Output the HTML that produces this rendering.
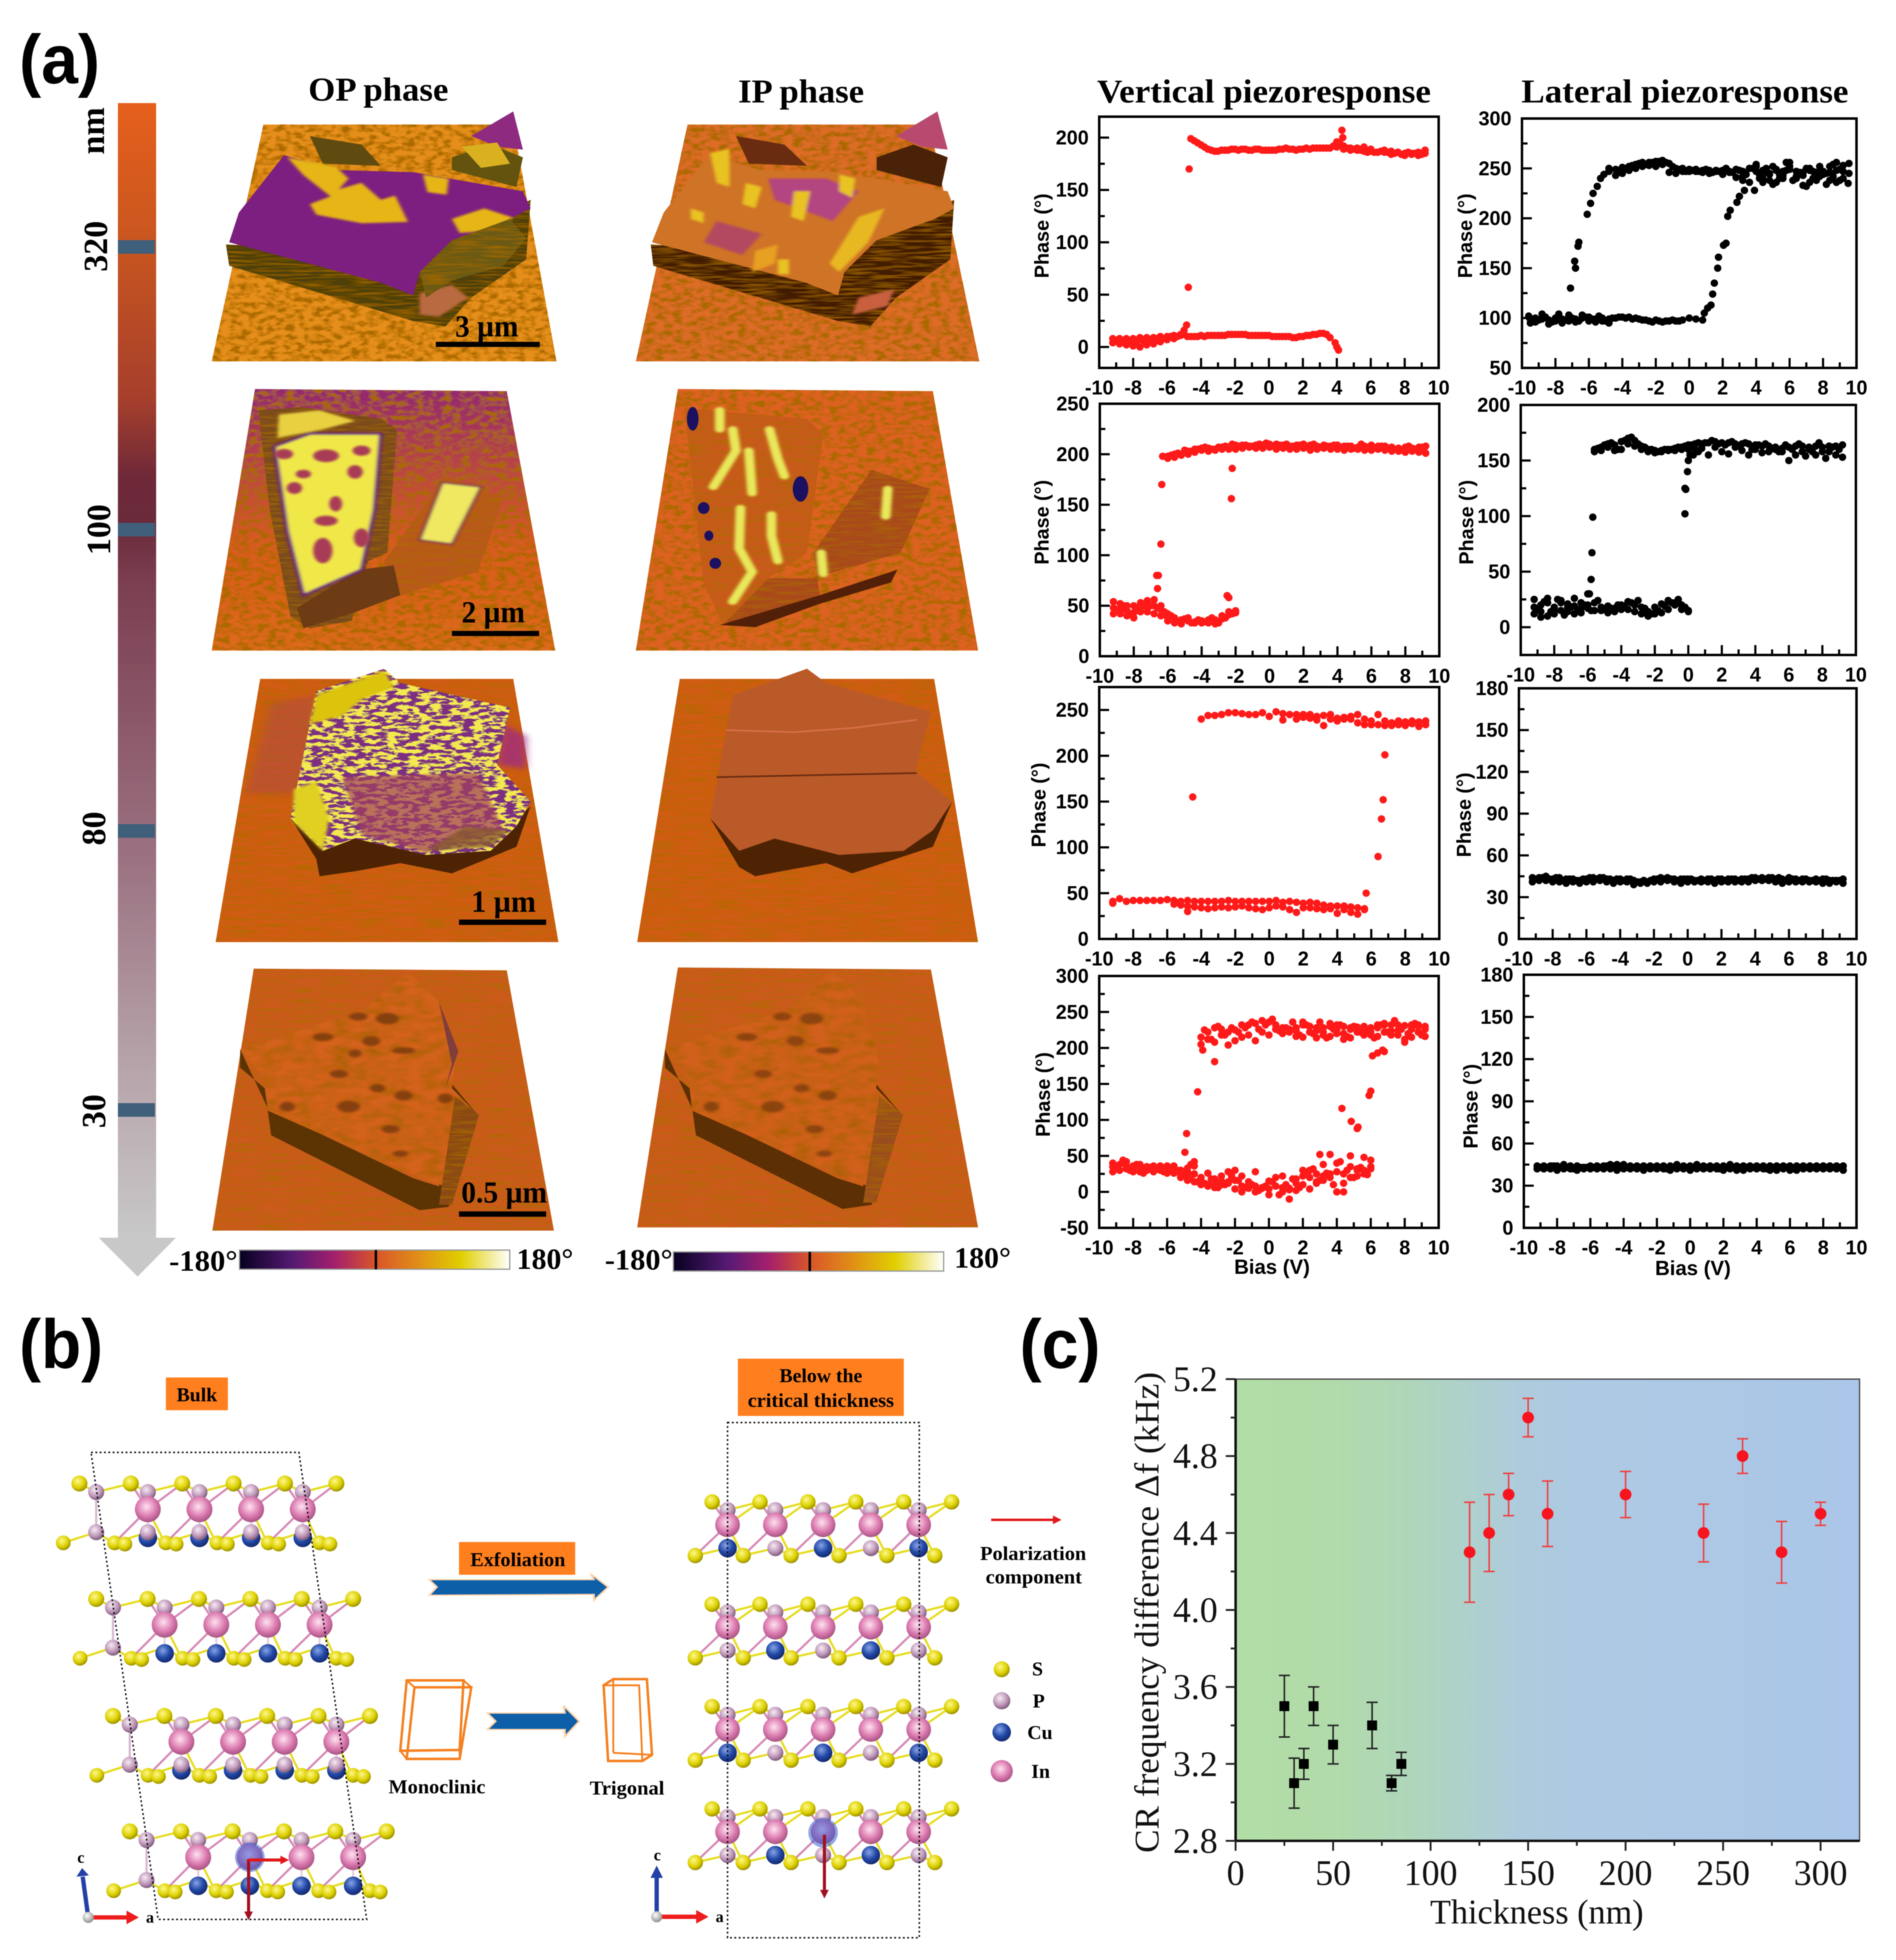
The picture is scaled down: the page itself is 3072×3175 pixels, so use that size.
<!DOCTYPE html>
<html lang="en">
<head>
<meta charset="utf-8">
<title>Thickness-dependent piezoresponse figure</title>
<style>
html,body{margin:0;padding:0;background:#fff;}
svg{display:block;filter:blur(.7px);}
.serif{font-family:"Liberation Serif",serif;font-weight:bold;}
.sans{font-family:"Liberation Sans",sans-serif;font-weight:bold;}
</style>
</head>
<body>
<svg id="figure" xmlns="http://www.w3.org/2000/svg" width="3072" height="3175" viewBox="0 0 3072 3175">
<defs>
  <linearGradient id="thickGrad" x1="0" y1="0" x2="0" y2="1">
    <stop offset="0" stop-color="#e55f1c"/><stop offset=".12" stop-color="#c9561f"/>
    <stop offset=".26" stop-color="#a63f2c"/><stop offset=".33" stop-color="#6e2838"/>
    <stop offset=".37" stop-color="#6a2a3a"/><stop offset=".42" stop-color="#7a3e50"/>
    <stop offset=".66" stop-color="#9a7080"/>
    <stop offset=".85" stop-color="#b6a4aa"/><stop offset="1" stop-color="#c8c8c8"/>
  </linearGradient>
  <linearGradient id="phaseBar" x1="0" y1="0" x2="1" y2="0">
    <stop offset="0" stop-color="#060020"/><stop offset=".2" stop-color="#561a74"/>
    <stop offset=".35" stop-color="#a31f6c"/><stop offset=".5" stop-color="#d8532a"/>
    <stop offset=".65" stop-color="#e08a18"/><stop offset=".82" stop-color="#e0cf00"/>
    <stop offset="1" stop-color="#ffffff"/>
  </linearGradient>
  <linearGradient id="cBackground" x1="0" y1="0" x2="1" y2="0">
    <stop offset="0" stop-color="#b1dda6"/><stop offset=".15" stop-color="#b1dba9"/>
    <stop offset=".3" stop-color="#aed5bd"/><stop offset=".45" stop-color="#aecbdc"/>
    <stop offset=".55" stop-color="#aec9e2"/><stop offset="1" stop-color="#aac6e8"/>
  </linearGradient>
  <linearGradient id="row2Base" x1="0" y1="0" x2="0" y2="1">
    <stop offset="0" stop-color="#93286f"/><stop offset=".35" stop-color="#c04a3c"/><stop offset=".6" stop-color="#d85c20"/><stop offset="1" stop-color="#dc6a1a"/>
  </linearGradient>
  <radialGradient id="atomS" cx=".4" cy=".35" r=".7"><stop offset="0" stop-color="#fff88a"/><stop offset=".6" stop-color="#dcd000"/><stop offset="1" stop-color="#8f8400"/></radialGradient>
  <radialGradient id="atomP" cx=".4" cy=".35" r=".7"><stop offset="0" stop-color="#f6ecf4"/><stop offset=".6" stop-color="#bd94b6"/><stop offset="1" stop-color="#6f5070"/></radialGradient>
  <radialGradient id="atomCu" cx=".4" cy=".35" r=".7"><stop offset="0" stop-color="#86a4e6"/><stop offset=".55" stop-color="#2248a6"/><stop offset="1" stop-color="#122466"/></radialGradient>
  <radialGradient id="atomIn" cx=".45" cy=".4" r=".7"><stop offset="0" stop-color="#ffe2f0"/><stop offset=".55" stop-color="#da78ae"/><stop offset="1" stop-color="#8e4470"/></radialGradient>
  <radialGradient id="atomGrey" cx=".4" cy=".35" r=".7"><stop offset="0" stop-color="#fff"/><stop offset="1" stop-color="#888"/></radialGradient>
  <filter id="bumps" x="0" y="0" width="100%" height="100%">
    <feTurbulence type="fractalNoise" baseFrequency=".07 .09" numOctaves="2" seed="4" result="n"/>
    <feColorMatrix in="n" type="matrix" values="0 0 0 0 .4  0 0 0 0 .14  0 0 0 0 0  3.2 0 0 0 -1.3" result="d"/>
    <feComposite in="d" in2="SourceAlpha" operator="in" result="t"/>
    <feMerge><feMergeNode in="SourceGraphic"/><feMergeNode in="t"/></feMerge>
  </filter>
  <filter id="rough" x="0" y="0" width="100%" height="100%">
    <feTurbulence type="fractalNoise" baseFrequency=".035 .05" numOctaves="2" seed="4" result="n"/>
    <feColorMatrix in="n" type="matrix" values="0 0 0 0 .35  0 0 0 0 .12  0 0 0 0 0  1.6 0 0 0 -.6" result="d"/>
    <feComposite in="d" in2="SourceAlpha" operator="in" result="t"/>
    <feMerge><feMergeNode in="SourceGraphic"/><feMergeNode in="t"/></feMerge>
  </filter>
  <filter id="fine" x="0" y="0" width="100%" height="100%">
    <feTurbulence type="fractalNoise" baseFrequency=".02 .2" numOctaves="2" seed="9" result="n"/>
    <feColorMatrix in="n" type="matrix" values="0 0 0 0 .4  0 0 0 0 .15  0 0 0 0 0  1.9 0 0 0 -.8" result="d"/>
    <feComposite in="d" in2="SourceAlpha" operator="in" result="t"/>
    <feMerge><feMergeNode in="SourceGraphic"/><feMergeNode in="t"/></feMerge>
  </filter>
  <filter id="speckle" x="0" y="0" width="100%" height="100%">
    <feTurbulence type="fractalNoise" baseFrequency=".06 .12" numOctaves="3" seed="12" result="n"/>
    <feColorMatrix in="n" type="matrix" values="0 0 0 0 .9  0 0 0 0 .82  0 0 0 0 .08  9 0 0 0 -4.1" result="d"/>
    <feComposite in="d" in2="SourceAlpha" operator="in" result="t"/>
    <feMerge><feMergeNode in="SourceGraphic"/><feMergeNode in="t"/></feMerge>
  </filter>
  <filter id="soft"><feGaussianBlur stdDeviation="2.5"/></filter>
  <filter id="softer"><feGaussianBlur stdDeviation="6"/></filter>
</defs>

<!-- panel letters -->
<text class="sans" x="31" y="135" font-size="112" textLength="131" lengthAdjust="spacingAndGlyphs">(a)</text>
<text class="sans" x="31" y="2216" font-size="112" textLength="136" lengthAdjust="spacingAndGlyphs">(b)</text>
<text class="sans" x="1652" y="2216" font-size="112" textLength="131" lengthAdjust="spacingAndGlyphs">(c)</text>

<!-- thickness arrow -->
<g>
  <rect x="191" y="167" width="62" height="1840" fill="url(#thickGrad)"/>
  <polygon points="160,2005 285,2005 223,2068" fill="#c8c8c8"/>
  <rect x="191" y="389" width="60" height="22" fill="#3f5f7a"/>
  <rect x="191" y="847" width="60" height="22" fill="#3f5f7a"/>
  <rect x="191" y="1335" width="60" height="22" fill="#3f5f7a"/>
  <rect x="191" y="1787" width="60" height="22" fill="#3f5f7a"/>
  <text class="serif" font-size="55" text-anchor="middle" dominant-baseline="central" transform="translate(150,212) rotate(-90)">nm</text>
  <text class="serif" font-size="55" text-anchor="middle" dominant-baseline="central" transform="translate(155,399) rotate(-90)">320</text>
  <text class="serif" font-size="55" text-anchor="middle" dominant-baseline="central" transform="translate(160,858) rotate(-90)">100</text>
  <text class="serif" font-size="55" text-anchor="middle" dominant-baseline="central" transform="translate(152,1342) rotate(-90)">80</text>
  <text class="serif" font-size="55" text-anchor="middle" dominant-baseline="central" transform="translate(152,1800) rotate(-90)">30</text>
</g>

<!-- column titles -->
<text class="serif" x="613" y="145" font-size="54" text-anchor="middle" dominant-baseline="central" textLength="227" lengthAdjust="spacingAndGlyphs">OP phase</text>
<text class="serif" x="1298" y="148" font-size="54" text-anchor="middle" dominant-baseline="central" textLength="204" lengthAdjust="spacingAndGlyphs">IP phase</text>
<text class="serif" x="2048" y="148" font-size="54" text-anchor="middle" dominant-baseline="central" textLength="541" lengthAdjust="spacingAndGlyphs">Vertical piezoresponse</text>
<text class="serif" x="2730" y="148" font-size="54" text-anchor="middle" dominant-baseline="central" textLength="530" lengthAdjust="spacingAndGlyphs">Lateral piezoresponse</text>

<!-- AFM images rows 1 & 2 -->
<g transform="scale(1.046,.6887)">
  <g>
    <polygon points="408,293 795,293 862,850 328,850" fill="#e58e1c" filter="url(#bumps)"/>
    <polygon points="480,320 560,340 590,390 500,385" fill="#5f4a10"/>
    <polygon points="700,370 760,340 810,370 800,440 750,420 700,400" fill="#63530f"/>
    <polygon points="730,320 795,262 810,352 770,345" fill="#8e2a80"/>
    <polygon points="715,345 770,335 790,385 745,395" fill="#d9b020"/>
    <polygon points="350,575 355,625 640,755 690,768 730,700 815,610 822,470 640,600" fill="#4d3f0c" filter="url(#fine)"/>
    <polygon points="440,365 520,400 640,405 810,450 822,490 790,515 700,565 650,640 640,695 590,665 355,570 370,500" fill="#7c1f80"/>
    <g filter="url(#soft)" fill="#e6b612">
      <polygon points="445,370 520,392 540,420 525,445 560,430 590,470 612,460 632,522 560,525 490,505 480,480 512,462 470,412"/>
      <polygon points="655,410 695,420 692,458 662,452"/>
      <polygon points="700,515 750,490 795,512 765,542 712,548"/>
      <polygon points="650,690 700,670 725,700 680,745 650,740" fill="#b96a40"/>
    </g>
    <polygon points="650,640 700,565 790,515 815,560 780,625 700,660 660,700" fill="#6a5a14" filter="url(#fine)"/>
  </g>
  <g>
    <polygon points="1065,293 1440,293 1517,850 985,850" fill="#dc6c26" filter="url(#bumps)"/>
    <polygon points="1140,320 1215,340 1250,390 1160,385" fill="#6a2c10"/>
    <polygon points="1358,370 1415,340 1468,370 1458,440 1408,420 1358,400" fill="#4a2208"/>
    <polygon points="1388,320 1452,262 1468,352 1428,345" fill="#b84a70"/>
    <polygon points="1008,575 1012,625 1298,755 1348,768 1388,700 1472,610 1478,470 1298,600" fill="#431c06" filter="url(#fine)"/>
    <polygon points="1098,365 1178,400 1298,405 1468,450 1478,490 1448,515 1358,565 1308,640 1298,695 1248,665 1010,570 1028,500" fill="#cf7326"/>
    <g filter="url(#soft)">
      <polygon points="1190,420 1280,420 1330,450 1290,520 1200,470" fill="#b34580"/>
      <polygon points="1100,360 1130,350 1130,440 1110,430" fill="#e8c320"/>
      <polygon points="1155,430 1180,440 1170,490 1150,480" fill="#e8c320"/>
      <polygon points="1230,450 1255,450 1245,520 1225,510" fill="#e8c320"/>
      <polygon points="1300,410 1325,420 1320,465 1300,450" fill="#e8c320"/>
      <polygon points="1330,510 1370,490 1345,570 1300,640 1285,620" fill="#e8b820"/>
      <polygon points="1170,590 1205,575 1200,620 1165,640" fill="#e8a020"/>
      <polygon points="1205,610 1222,610 1222,645 1205,645" fill="#e8c320"/>
      <polygon points="1070,490 1090,500 1090,525 1070,515" fill="#e8c320"/>
      <polygon points="1110,520 1180,550 1150,600 1090,570" fill="#b34a60"/>
      <polygon points="1330,700 1385,680 1375,720 1320,740" fill="#c86040"/>
    </g>
  </g>
  <g>
    <polygon points="395,915 785,920 860,1530 328,1530" fill="url(#row2Base)" filter="url(#bumps)"/>
    <polygon points="400,965 470,958 590,985 615,1010 600,1300 570,1320 545,1460 480,1478 450,1450 418,1200" fill="#7a4c1a" filter="url(#fine)"/>
    <polygon points="690,1120 780,1170 740,1345 600,1410 595,1320" fill="#b9591f" filter="url(#fine)"/>
    <polygon points="555,1340 610,1330 620,1400 550,1440 470,1478 460,1430" fill="#6d3c14"/>
    <g filter="url(#soft)">
      <polygon points="425,1050 480,1020 590,1020 580,1200 560,1340 470,1400 445,1250" fill="#f0e84a" stroke="#6a2080" stroke-width="6"/>
      <polygon points="432,975 495,965 550,990 500,1010 430,1030" fill="#e8d040"/>
      <polygon points="685,1135 745,1145 700,1280 650,1270" fill="#f0e860" stroke="#7a2c60" stroke-width="4"/>
    </g>
    <g fill="#a83a56" filter="url(#soft)">
      <ellipse cx="505" cy="1072" rx="20" ry="15"/><ellipse cx="456" cy="1148" rx="12" ry="14"/>
      <ellipse cx="520" cy="1185" rx="10" ry="18"/><ellipse cx="505" cy="1225" rx="18" ry="12"/>
      <ellipse cx="500" cy="1295" rx="15" ry="30"/><ellipse cx="470" cy="1115" rx="12" ry="10"/>
      <ellipse cx="550" cy="1110" rx="12" ry="16"/><ellipse cx="440" cy="1068" rx="14" ry="12"/>
      <ellipse cx="560" cy="1060" rx="14" ry="12"/><ellipse cx="560" cy="1265" rx="12" ry="22"/>
    </g>
  </g>
  <g>
    <polygon points="1050,915 1445,920 1515,1530 985,1530" fill="#dd6220" filter="url(#bumps)"/>
    <polygon points="1060,960 1250,985 1275,1020 1250,1300 1190,1360 1120,1470 1090,1370" fill="#c85a1c" filter="url(#fine)"/>
    <polygon points="1120,1470 1190,1360 1260,1360 1395,1300 1440,1150 1350,1105 1260,1300 1270,1400 1180,1460" fill="#a9481a" filter="url(#fine)"/>
    <polygon points="1115,1470 1270,1400 1390,1340 1380,1370 1270,1420 1170,1475" fill="#522008"/>
    <g fill="none" stroke="#e9e85a" stroke-width="15" filter="url(#soft)" stroke-linecap="round">
      <polyline points="1115,965 1115,1010"/>
      <polyline points="1135,1010 1140,1060 1105,1145"/>
      <polyline points="1192,1010 1205,1080 1215,1120"/>
      <polyline points="1160,1060 1165,1160"/>
      <polyline points="1147,1195 1145,1290 1165,1345 1135,1415"/>
      <polyline points="1195,1210 1195,1260 1205,1320"/>
      <polyline points="1375,1150 1372,1215"/>
      <polyline points="1272,1300 1275,1350"/>
    </g>
    <g fill="#1c1060">
      <ellipse cx="1073" cy="985" rx="9" ry="28"/><ellipse cx="1240" cy="1150" rx="12" ry="30"/>
      <ellipse cx="1090" cy="1195" rx="9" ry="14"/><ellipse cx="1098" cy="1260" rx="7" ry="12"/><ellipse cx="1108" cy="1325" rx="9" ry="13"/>
    </g>
  </g>
  <text class="serif" x="754" y="768" font-size="50" text-anchor="middle" dominant-baseline="central" transform="scale(1,1.452) translate(0,-239)" textLength="98" lengthAdjust="spacingAndGlyphs">3 µm</text>
  <rect x="675" y="804" width="161" height="12" fill="#000"/>
  <text class="serif" x="764" y="1440" font-size="50" text-anchor="middle" dominant-baseline="central" transform="scale(1,1.452) translate(0,-448)" textLength="98" lengthAdjust="spacingAndGlyphs">2 µm</text>
  <rect x="700" y="1484" width="135" height="12" fill="#000"/>
</g>

<!-- AFM images rows 3 & 4 -->
<g transform="translate(0,1060) scale(1.046,.663)">
  <g>
    <polygon points="403,60 795,60 865,703 334,703" fill="#d05c14" filter="url(#fine)"/>
    <g filter="url(#softer)"><polygon points="420,120 490,100 480,340 380,340" fill="#a8445a" opacity=".4"/><polygon points="780,170 815,200 815,280 770,270" fill="#a02d80" opacity=".8"/></g>
    <polygon points="450,400 490,500 495,542 550,530 620,510 700,535 800,470 822,370 760,470 660,490 550,450" fill="#4d2304"/>
    <polygon points="490,90 595,35 620,70 790,130 770,270 822,360 800,420 760,480 660,490 550,450 500,480 450,400" fill="#7d2f80" filter="url(#speckle)"/>
    <g filter="url(#soft)">
      <polygon points="490,100 595,40 610,80 560,110 530,150 480,170" fill="#dcc410"/>
      <polygon points="455,330 490,310 510,400 500,480 455,410" fill="#e0d020"/>
      <polygon points="530,300 740,290 780,430 660,485 560,440" fill="#a0405e" opacity=".7"/>
      <polygon points="660,480 760,470 790,430 720,420" fill="#8a5a30" opacity=".8"/>
    </g>
  </g>
  <g>
    <polygon points="1053,60 1447,60 1515,703 987,703" fill="#d05c14" filter="url(#fine)"/>
    <polygon points="1100,400 1145,520 1170,542 1210,530 1280,510 1320,535 1445,470 1475,360 1400,480 1300,490 1200,450" fill="#4d2304"/>
    <polygon points="1135,100 1250,35 1280,70 1442,140 1418,285 1475,360 1445,430 1400,480 1300,490 1200,450 1145,480 1100,400" fill="#ba5a28"/>
    <polyline points="1125,185 1230,190 1320,180 1420,160" fill="none" stroke="#d87048" stroke-width="4"/>
    <polyline points="1110,300 1420,290" fill="none" stroke="#6a2c10" stroke-width="4"/>
  </g>
  <g>
    <polygon points="393,768 785,772 858,1408 329,1408" fill="#cb5a1a" filter="url(#fine)"/>
    <polygon points="372,965 372,1010 410,1060 420,1175 650,1358 695,1350 740,1125 700,1050 680,1300 640,1280 415,1110" fill="#5c3404"/>
    <polygon points="633,775 680,850 705,1000 700,1060 740,1125 690,1300 660,1285 415,1115 410,1040 372,965 440,930 560,870" fill="#d2621a" filter="url(#rough)"/>
    <polygon points="705,1080 742,1125 700,1345 680,1345" fill="#8a4a14" filter="url(#fine)"/>
    <polygon points="680,850 710,970 690,1060 700,1000" fill="#7f3d3c"/>
    <g fill="#7a3a0c" filter="url(#soft)" opacity=".85">
      <ellipse cx="600" cy="890" rx="18" ry="14"/><ellipse cx="555" cy="885" rx="14" ry="10"/><ellipse cx="500" cy="935" rx="16" ry="10"/>
      <ellipse cx="575" cy="945" rx="14" ry="12"/><ellipse cx="625" cy="968" rx="18" ry="8"/><ellipse cx="550" cy="975" rx="10" ry="10"/>
      <ellipse cx="525" cy="1025" rx="14" ry="10"/><ellipse cx="625" cy="1078" rx="14" ry="12"/><ellipse cx="585" cy="1060" rx="12" ry="10"/>
      <ellipse cx="540" cy="1105" rx="18" ry="14"/><ellipse cx="445" cy="1105" rx="12" ry="12"/><ellipse cx="605" cy="1160" rx="14" ry="10"/>
      <ellipse cx="690" cy="1085" rx="12" ry="12"/><ellipse cx="620" cy="1220" rx="12" ry="8"/>
    </g>
  </g>
  <g>
    <polygon points="1050,765 1442,770 1515,1400 987,1400" fill="#cb5a1a" filter="url(#fine)"/>
    <polygon points="1030,965 1030,1010 1068,1060 1078,1175 1305,1355 1350,1345 1397,1125 1357,1050 1337,1300 1297,1280 1072,1110" fill="#5c2f04"/>
    <polygon points="1290,770 1337,850 1362,1000 1357,1060 1397,1125 1347,1300 1317,1285 1072,1115 1067,1040 1030,965 1097,930 1217,870" fill="#d0601a" filter="url(#rough)"/>
    <polygon points="1362,1080 1399,1125 1357,1340 1337,1340" fill="#9a4e1c" filter="url(#fine)"/>
    <g fill="#7a3a0c" filter="url(#soft)" opacity=".75">
      <ellipse cx="1257" cy="890" rx="18" ry="14"/><ellipse cx="1212" cy="885" rx="14" ry="10"/><ellipse cx="1157" cy="935" rx="16" ry="10"/>
      <ellipse cx="1232" cy="945" rx="14" ry="12"/><ellipse cx="1282" cy="968" rx="18" ry="8"/><ellipse cx="1182" cy="1025" rx="14" ry="10"/>
      <ellipse cx="1282" cy="1078" rx="14" ry="12"/><ellipse cx="1242" cy="1060" rx="12" ry="10"/><ellipse cx="1197" cy="1105" rx="18" ry="14"/>
      <ellipse cx="1102" cy="1105" rx="12" ry="12"/><ellipse cx="1262" cy="1160" rx="14" ry="10"/><ellipse cx="1277" cy="1220" rx="12" ry="8"/>
    </g>
  </g>
  <text class="serif" x="780" y="605" font-size="50" text-anchor="middle" dominant-baseline="central" transform="scale(1,1.508) translate(0,-204)" textLength="100" lengthAdjust="spacingAndGlyphs">1 µm</text>
  <rect x="711" y="648" width="135" height="13" fill="#000"/>
  <text class="serif" x="781" y="1315" font-size="50" text-anchor="middle" dominant-baseline="central" transform="scale(1,1.508) translate(0,-443)" textLength="133" lengthAdjust="spacingAndGlyphs">0.5 µm</text>
  <rect x="711" y="1361" width="135" height="13" fill="#000"/>
</g>

<!-- phase colour bars -->
<g>
  <rect x="388" y="2025" width="438" height="31" fill="url(#phaseBar)" stroke="#999" stroke-width="2"/>
  <rect x="607" y="2025" width="4" height="31" fill="#000"/>
  <text class="serif" x="274" y="2043" font-size="48" dominant-baseline="central" textLength="111" lengthAdjust="spacingAndGlyphs">-180°</text>
  <text class="serif" x="837" y="2040" font-size="48" dominant-baseline="central" textLength="92" lengthAdjust="spacingAndGlyphs">180°</text>
</g>
<g>
  <rect x="1091" y="2028" width="438" height="31" fill="url(#phaseBar)" stroke="#999" stroke-width="2"/>
  <rect x="1310" y="2028" width="4" height="31" fill="#000"/>
  <text class="serif" x="980" y="2041" font-size="48" dominant-baseline="central" textLength="110" lengthAdjust="spacingAndGlyphs">-180°</text>
  <text class="serif" x="1546" y="2038" font-size="48" dominant-baseline="central" textLength="92" lengthAdjust="spacingAndGlyphs">180°</text>
</g>

<!-- panel b static parts -->
<g>
  <g id="crystals"></g>
  <g transform="translate(0,2120) scale(1.046,.663)">
    <rect x="257" y="168" width="96" height="80" fill="#ff7f1f"/>
    <rect x="1143" y="122" width="257" height="140" fill="#ff7f1f"/>
    <rect x="711" y="570" width="180" height="80" fill="#ff7f1f"/>
    <polygon points="665,662 920,662 915,648 942,680 920,712 920,698 665,700 677,680" fill="#0d5fa8" stroke="#ffd2a8" stroke-width="3"/>
    <polygon points="755,988 875,988 873,970 897,1008 875,1045 875,1028 755,1028 768,1008" fill="#0d5fa8" stroke="#ffd2a8" stroke-width="3"/>
    <g fill="none" stroke="#f58020">
      <polygon vector-effect="non-scaling-stroke" stroke-width="4" points="630,908 718,908 712,1078 620,1080"/>
      <polygon vector-effect="non-scaling-stroke" stroke-width="4" points="642,925 730,925 712,1100 630,1100"/>
      <line vector-effect="non-scaling-stroke" stroke-width="3" x1="630" y1="908" x2="642" y2="925"/>
      <line vector-effect="non-scaling-stroke" stroke-width="3" x1="718" y1="908" x2="730" y2="925"/>
      <line vector-effect="non-scaling-stroke" stroke-width="3" x1="620" y1="1080" x2="630" y2="1100"/>
      <line vector-effect="non-scaling-stroke" stroke-width="3" x1="712" y1="1078" x2="712" y2="1100"/>
    </g>
    <g fill="none" stroke="#f58020">
      <polygon vector-effect="non-scaling-stroke" stroke-width="4" points="935,920 950,905 1002,905 1010,1090 995,1105 942,1105"/>
      <polygon vector-effect="non-scaling-stroke" stroke-width="3" points="935,920 990,920 995,1105 942,1105"/>
      <line vector-effect="non-scaling-stroke" stroke-width="3" x1="950" y1="905" x2="950" y2="1085"/>
      <line vector-effect="non-scaling-stroke" stroke-width="3" x1="950" y1="1085" x2="1010" y2="1090"/>
    </g>
    <polygon points="141,351 463,351 568,1492 245,1492" fill="none" stroke="#111" stroke-width="2.5" stroke-dasharray="3 4" vector-effect="non-scaling-stroke"/>
    <rect x="1127" y="278" width="297" height="1259" fill="none" stroke="#111" stroke-width="2.5" stroke-dasharray="3 4" vector-effect="non-scaling-stroke"/>
  </g>
  <text class="serif" x="319" y="2259" font-size="32" text-anchor="middle" dominant-baseline="central">Bulk</text>
  <text class="serif" x="1330" y="2228" font-size="32" text-anchor="middle" dominant-baseline="central">Below the</text>
  <text class="serif" x="1330" y="2268" font-size="32" text-anchor="middle" dominant-baseline="central" textLength="237" lengthAdjust="spacingAndGlyphs">critical thickness</text>
  <text class="serif" x="839" y="2526" font-size="32" text-anchor="middle" dominant-baseline="central" textLength="154" lengthAdjust="spacingAndGlyphs">Exfoliation</text>
  <text class="serif" x="708" y="2894" font-size="32" text-anchor="middle" dominant-baseline="central" textLength="157" lengthAdjust="spacingAndGlyphs">Monoclinic</text>
  <text class="serif" x="1016" y="2896" font-size="32" text-anchor="middle" dominant-baseline="central" textLength="121" lengthAdjust="spacingAndGlyphs">Trigonal</text>

  <g>
    <line x1="143" y1="3106" x2="134" y2="3040" stroke="#2340a8" stroke-width="7"/>
    <polygon points="124,3042 144,3040 133,3028" fill="#2340a8" transform="translate(0,-2)"/>
    <line x1="143" y1="3106" x2="205" y2="3106" stroke="#ee1c1c" stroke-width="7"/>
    <polygon points="205,3095 225,3106 205,3117" fill="#ee1c1c"/>
    <circle cx="143" cy="3106" r="9" fill="url(#atomGrey)"/>
    <text class="serif" x="131" y="3009" font-size="26" text-anchor="middle" dominant-baseline="central">c</text>
    <text class="serif" x="243" y="3106" font-size="26" text-anchor="middle" dominant-baseline="central">a</text>
  </g>
  <g>
    <line x1="1064" y1="3105" x2="1064" y2="3040" stroke="#2340a8" stroke-width="7"/>
    <polygon points="1054,3042 1074,3042 1064,3022" fill="#2340a8"/>
    <line x1="1064" y1="3105" x2="1128" y2="3105" stroke="#ee1c1c" stroke-width="7"/>
    <polygon points="1128,3094 1148,3105 1128,3116" fill="#ee1c1c"/>
    <circle cx="1064" cy="3105" r="9" fill="url(#atomGrey)"/>
    <text class="serif" x="1065" y="3005" font-size="26" text-anchor="middle" dominant-baseline="central">c</text>
    <text class="serif" x="1166" y="3105" font-size="26" text-anchor="middle" dominant-baseline="central">a</text>
  </g>

  <g>
    <line x1="1606" y1="2462" x2="1708" y2="2462" stroke="#e01818" stroke-width="4"/>
    <polygon points="1706,2455 1720,2462 1706,2469" fill="#e01818"/>
    <text class="serif" x="1674" y="2516" font-size="32" text-anchor="middle" dominant-baseline="central" textLength="172" lengthAdjust="spacingAndGlyphs">Polarization</text>
    <text class="serif" x="1675" y="2554" font-size="32" text-anchor="middle" dominant-baseline="central" textLength="156" lengthAdjust="spacingAndGlyphs">component</text>
  </g>
  <g>
    <circle cx="1623" cy="2704" r="13" fill="url(#atomS)"/>
    <text class="serif" x="1681" y="2703" font-size="32" text-anchor="middle" dominant-baseline="central">S</text>
    <circle cx="1623" cy="2755" r="14" fill="url(#atomP)"/>
    <text class="serif" x="1683" y="2755" font-size="32" text-anchor="middle" dominant-baseline="central">P</text>
    <circle cx="1623" cy="2806" r="15" fill="url(#atomCu)"/>
    <text class="serif" x="1685" y="2806" font-size="32" text-anchor="middle" dominant-baseline="central">Cu</text>
    <circle cx="1623" cy="2869" r="18" fill="url(#atomIn)"/>
    <text class="serif" x="1686" y="2869" font-size="32" text-anchor="middle" dominant-baseline="central">In</text>
  </g>
</g>

<g id="hysteresis"></g>
<g id="chartC"></g>
</svg>

<script>
/* ---------- shared bias values (V) ---------- */
const xTickValues=[-10,-8,-6,-4,-2,0,2,4,6,8,10];
const biasFull=[-9.2,-8.8,-8.4,-8,-7.6,-7.2,-6.8,-6.4,-6,-5.6,-5.2,-4.8,-4.4,-4,-3.6,-3.2,-2.8,-2.4,-2,-1.6,-1.2,-0.8,-0.4,0,0.4,0.8,1.2,1.6,2,2.4,2.8,3.2,3.6,4,4.4,4.8,5.2,5.6,6,6.4,6.8,7.2,7.6,8,8.4,8.8,9.2];
const biasOffset=[-9,-8.6,-8.2,-7.8,-7.4,-7,-6.6,-6.2,-5.8,-5.4,-5,-4.6,-4.2,-3.8,-3.4,-3,-2.6,-2.2,-1.8,-1.4,-1,-0.6,-0.2,0.2,0.6,1,1.4,1.8,2.2,2.6,3,3.4,3.8,4.2,4.6,5,5.4,5.8,6.2,6.6,7,7.4,7.8,8.2,8.6,9];

/* ---------- vertical, row 1 ---------- */
const v1Ticks=[0,50,100,150,200];
const v1Upper=[197,193,189,187,188,188,189,189,188,189,188,188,188,189,189,188,189,189,190,190,190,191,189,188,188,187,187,186,186,187,186,185,185,186,185];
const v1UpperB=[196,192,190,190,191,189,186,188,184,186,183,184,183,188];
const v1UpperOffset=[199,195,191,188,187,188,189,188,189,188,189,188,188,189,190,189,189,190,190,190,190,192,194,190,189,188,186,186,187,186,185,184,186,185,184];
const v1Lower=[8,8,8,8,9,9,9,10,10,11,12,10,10,11,11,11,11,12,12,12,11,11,11,11,10,10,10,9,10,11,12,13,9,0];
const v1LowerB=[4,3,2,1,0,2,3,5,7,8,11];
const v1LowerOffset=[6,5,6,5,6,7,8,8,10,10,12,10,10,10,11,11,11,12,12,12,11,11,11,10,10,10,9,10,11,12,13,12];
const v1ExtraBias=[-4.7,-4.75,-4.85,-5,4.1,3.9,4.3,4.35];
const v1ExtraPhase=[170,57,21,16,-3,4,207,200];

/* ---------- lateral, row 1 ---------- */
const l1Ticks=[50,100,150,200,250,300];
const l1UpperA=[250,249,251,252,254,256,256,257,258,255,250,250,249,249,248,248,248,248,247,249,247,250,247,248,245,249,247,249,247,246,248,246,247,246,248,247];
const l1UpperB=[247,243,245,248,250,252,253,252,254,246,245,247,247,247,246,245,247,244,246,241,242,236,254,240,244,236,240,252,240,243,236,240,244,238,256,240];
const l1UpperC=[252,236,238,248,243,256,242,233,250,238,247,252,236,253];
const l1UpperD=[248,250,253,255,254,256,257,256,252,249,247,248,247,249,246,247,250,246,248,244,250,240,246,252,244,248,238,246,250,240,252,245,242,249];
const l1UpperE=[244,250,234,240,256,238,244,232,247,242,234,254,238];
const l1LowerA=[100,99,98,100,99,103,99,100,101,99,100,99,100,101,101,100,98,97,98,96,97,97,98,100,99,98];
const l1LowerB=[96,104,94,97,95,97,96,103,97,96,97,95];
const l1LowerOffset=[98,101,96,104,98,100,97,101,99,102,97,100,101,100,99,99,98,96,97,97,98,97];
const l1ExtraBias=[-7.1,-6.8,-6.85,-6.65,-6.6,-6.1,-5.9,-5.75,-5.5,-5.3,-5.1,0.9,1.1,1.3,1.4,1.5,1.7,1.75,2.05,2.2,2.3,2.45,2.85,3,3.3,3.9,3.2,-9.55,-9.5,-9.6,9.55,9.55,9.5];
const l1ExtraPhase=[130,150,157,172,176,204,215,225,232,240,244,105,110,113,124,135,150,161,173,175,202,208,216,222,228,228,238,100,95,102,245,255,235];

/* ---------- vertical, row 2 ---------- */
const v2Ticks=[0,50,100,150,200,250];
const v2Upper=[198,200,200,203,205,206,206,205,207,207,209,209,208,209,209,210,210,209,208,209,210,209,208,209,208,209,208,208,207,208,209,208,208,207,206,207,206,207,208];
const v2UpperB=[196,197,199,200,202,204,203,204,205,205,205,206,207,206,206,207,205,206,205,205,206,204,205,206,205,205,204,205,205,204,204,205,204,203,203,202,203,202,201];
const v2UpperOffset=[199,201,204,203,205,207,205,207,208,210,208,209,208,210,211,208,209,210,208,209,208,210,207,208,209,207,208,206,210,207,206,208,206,205,204,208,205,207];
const v2LowerLeftA=[48,52,45,50,53,55,50,46];
const v2LowerLeftB=[42,46,40,43,44,44,42,50];
const v2LowerLeftC=[54,42,50,38,48,48,56,40,42];
const v2LowerLeftOffset=[46,50,42,48,52,50,48,44];
const v2LowerMidA=[38,33,36,35,34,35,33,36,40,44,45];
const v2LowerMidB=[35,38,32,38,33,33,36,32,37,41,43];
const v2LowerMidOffset=[40,34,37,33,36,34,38,33,38,42];
const v2ExtraBias=[-6.3,-6.35,-6.4,-6.55,-6.6,-6.65,-2.2,-2.25,-2.5,-2.4];
const v2ExtraPhase=[198,170,111,80,67,80,186,156,60,58];

/* ---------- lateral, row 2 ---------- */
const l2Ticks=[0,50,100,150,200];
const l2UpperA=[160,162,165,164,167,170,168,163,160,159,159,160,161,162,164,165,165,166,167,166,166,165,165,165,164,163,163,162,161,162,163,163,162,163,162,163,163,164];
const l2UpperB=[158,159,162,159,160,165,163,160,158,157,158,159,159,160,160,160,161,155,162,158,156,162,159,155,160,157,158,160,158,150,155,158,160,155,158,158,155,153];
const l2UpperOffset=[161,164,166,160,168,171,165,162,160,158,160,160,162,163,164,166,166,168,165,164,167,163,166,160,164,165,161,158,164,160,165,154,158,166,152,162,160];
const l2LowerA=[18,20,22,18,24,21,19,17,20,22,18,19,17,20,23,20,18,14,18,21,24,22,20,15];
const l2LowerB=[12,14,10,12,15,14,12,13,17,15,15,13,14,16,16,14,12,10,12,13,16,20,16,14];
const l2LowerC=[25,9,26,15,22,18,26,22,30];
const l2LowerOffset=[16,23,14,25,11,18,15,20,15,24,16,17,20,19,22,24,17,12,15,19,22,25,18];
const l2ExtraBias=[-5.9,-5.8,-5.75,-5.7,-0.2,-0.2,-0.15,-0.05,0,0.1,0.3,0.6];
const l2ExtraPhase=[30,43,67,99,102,125,124,140,150,155,155,158];

/* ---------- vertical, row 3 ---------- */
const v3Ticks=[0,50,100,150,200,250];
const v3Upper=[240,244,244,245,247,247,246,245,245,247,243,248,246,245,245,245,245,243,244,245,241,242,243,245,240,238,245,238,236,238,237,238,237,238];
const v3UpperB=[239,245,240,242,241,239,233,240,238,240,240,236,234,234,234,233,233,234,233,235,232,234];
const v3Lower=[41,44,41,42,42,42,42,42,43,42,41,42,41,41,41,41,41,42,41,41,41,41,41,41,42,40,41,40,39,40,39,37,36,36,36,35,34,33];
const v3LowerB=[38,37,36,35,34,33,34,35,34,35,36,34,33,32,34,36,35,32,29,34,34,33,32,33,28,32,29,27,32];
const v3ExtraBias=[-4.5,6.4,6.6,6.7,6.8,5.7,-9.2,-4.8];
const v3ExtraPhase=[155,90,131,152,201,50,39,30];

/* ---------- lateral, rows 3 & 4 ---------- */
const l3Ticks=[0,30,60,90,120,150,180];
const l3BandA=[44,44,45,43,44,43,43,42,43,44,44,43,42,43,43,42,41,41,43,44,44,43,43,43,42,43,43,42,43,43,43,43,43,44,44,44,43,43,44,43,43,42,43,43,42,42,43];
const l3BandB=[41,42,42,41,41,40,41,40,41,41,42,41,40,41,41,39,40,40,41,41,42,41,40,41,41,41,41,40,41,41,41,41,41,42,42,42,41,40,41,41,41,41,41,40,40,41,40];
const l3BandOffset=[43,44,43,44,42,43,42,43,44,43,44,43,43,42,43,41,42,42,43,43,43,42,43,43,42,42,43,43,42,43,42,43,44,43,43,44,44,42,43,42,43,42,42,43,42,42];
const l4Ticks=[0,30,60,90,120,150,180];
const l4BandA=[44,44,44,44,45,44,44,43,44,44,44,45,45,45,44,44,44,44,44,44,44,45,44,44,45,44,44,44,44,45,44,44,44,44,44,44,44,44,44,44,44,44,44,44,44,44,44];
const l4BandB=[42,42,42,41,42,42,41,42,42,42,42,42,41,42,42,42,41,42,42,42,41,42,42,41,42,42,42,42,41,42,41,41,42,42,42,41,41,42,41,41,42,42,42,42,42,42,41];
const l4BandOffset=[43,43,44,43,43,42,43,43,43,43,44,44,44,43,43,43,43,43,43,42,43,43,43,43,43,43,43,42,43,43,43,43,43,43,42,43,43,43,42,43,43,43,43,43,43,43];

/* ---------- vertical, row 4 ---------- */
const v4Ticks=[-50,0,50,100,150,200,250,300];
const v4UpperA=[215,222,228,226,222,225,232,232,234,238,236,232,228,226,228,232,230,228,228,230,232,230,228,229,230,228,232,234,232,232,231,232,232,230];
const v4UpperB=[205,212,208,218,204,210,215,218,210,222,218,226,220,222,216,215,222,224,218,216,226,220,214,224,222,218,216,222,218,224,208,215,222,216];
const v4UpperC=[224,236,230,214,222,234,220,212,226,222,218,222,228,232,224,218,212,226,230,226];
const v4UpperOffset=[225,212,230,218,228,222,228,236,226,232,240,224,228,236,218,232,220,236,214,226,232,216,230,222,226,214,232,222,238,226,220,234,218];
const v4LeftA=[35,38,42,36,34,35,36,33,36,32,30,33,36];
const v4LeftB=[28,30,32,30,28,30,32,30,28,26,22,20,25];
const v4LeftC=[40,30,36,28,38,30,28,36,26,36,30,28,42];
const v4LeftOffset=[32,44,30,38,26,34,32,28,34,30,26,38];
const v4BowlA=[20,16,14,10,8,12,10,12,16,8,10,8,5,4,8,6,3,12,10,4,14,16,20,28,25,20,32,30,35];
const v4BowlB=[25,20,26,18,22,28,4,22,14,28,6,-4,20,22,-10,2,22,30,12,22,52,40,12,50,30,48,44];
const v4BowlC=[10,6,15,14,30,0,5,0,5,15,8,0,5,18,30,20,25,38,25,0,0,35,22,25,32];
const v4BowlOffset=[22,14,12,18,6,10,22,16,6,10,2,8,14,-4,10,18,6,24,32,16,26,10,42,30,20,34,24];
const v4ExtraBias=[-3.9,-3.2,-4.2,-4.85,-4.95,4.3,4.85,5.2,5.25,5.9,6,6.1,6.4,6.7,6.8,3];
const v4ExtraPhase=[197,181,139,81,55,116,98,88,90,134,140,189,193,197,195,52];

/* ---------- panel c ---------- */
const cXTicks=[0,50,100,150,200,250,300];
const cYTicks=[2.8,3.2,3.6,4.0,4.4,4.8,5.2];
const blackThickness=[25,30,35,40,50,70,80,85];
const blackDelta=[3.5,3.1,3.2,3.5,3.3,3.4,3.1,3.2];
const blackError=[0.16,0.13,0.08,0.1,0.1,0.12,0.04,0.06];
const redThickness=[120,130,140,150,160,200,240,260,280,300];
const redDelta=[4.3,4.4,4.6,5.0,4.5,4.6,4.4,4.8,4.3,4.5];
const redError=[0.26,0.2,0.11,0.1,0.17,0.12,0.15,0.09,0.16,0.06];

const NS='http://www.w3.org/2000/svg';
function make(parent,tag,attrs){
  const n=document.createElementNS(NS,tag);
  for(const k in attrs){n.setAttribute(k,attrs[k]);}
  parent.appendChild(n);
  return n;
}

function drawPanel(cfg){
  const root=document.getElementById('hysteresis');
  const g=make(root,'g',{});
  
  
  const sx=v=>cfg.left+(v+10)/20*(cfg.right-cfg.left);
  const sy=v=>cfg.bottom-(v-cfg.ymin)/(cfg.ymax-cfg.ymin)*(cfg.bottom-cfg.top);

  for(const s of cfg.series){
    for(let i=0;i<s.phase.length&&i<s.bias.length;i++){
      const dot=make(g,'circle',{cx:sx(s.bias[i]),cy:sy(s.phase[i]),r:6,fill:cfg.color});
      
      
    }
  }
  const frame=make(g,'rect',{x:cfg.left,y:cfg.top,width:cfg.right-cfg.left,height:cfg.bottom-cfg.top,fill:'none',stroke:'#000','stroke-width':4});
  
  

  for(const t of xTickValues){
    const tickLine=make(g,'line',{x1:sx(t),x2:sx(t),y1:cfg.bottom,y2:cfg.bottom-16,stroke:'#000','stroke-width':3.5});
    
    
    if(t<10){
      const minor=make(g,'line',{x1:sx(t+1),x2:sx(t+1),y1:cfg.bottom,y2:cfg.bottom-9,stroke:'#000','stroke-width':3.5});
      
      
    }
    const lab=make(g,'text',{x:sx(t),y:cfg.bottom+32,'font-size':32,'text-anchor':'middle','dominant-baseline':'central','class':'sans'});
    lab.textContent=String(t);
    
    
  }
  const step=cfg.ticks[1]-cfg.ticks[0];
  for(const t of cfg.ticks){
    const tickLine=make(g,'line',{x1:cfg.left,x2:cfg.left+16,y1:sy(t),y2:sy(t),stroke:'#000','stroke-width':3.5});
    
    
    const mv=t+step/2;
    if(mv<cfg.ymax){
      const minor=make(g,'line',{x1:cfg.left,x2:cfg.left+9,y1:sy(mv),y2:sy(mv),stroke:'#000','stroke-width':3.5});
      
      
    }
    const lab=make(g,'text',{x:cfg.left-17,y:sy(t),'font-size':32,'text-anchor':'end','dominant-baseline':'central','class':'sans'});
    lab.textContent=String(t);
    
    
  }
  const yl=make(g,'text',{'font-size':32,'text-anchor':'middle','dominant-baseline':'central','class':'sans',transform:'translate('+cfg.ylx+','+cfg.yly+') rotate(-90)'});
  yl.textContent='Phase (°)';
  
  
  if(cfg.xlx){
    const xl=make(g,'text',{x:cfg.xlx,y:cfg.xly,'font-size':33,'text-anchor':'middle','dominant-baseline':'central','class':'sans'});
    xl.textContent='Bias (V)';
    
    
  }
}
const RED='#ff1a1a',BLK='#000';
drawPanel({name:'vertical-row1',color:RED,left:1781,right:2331,top:189,bottom:596,ymin:-20,ymax:220,ticks:v1Ticks,ylx:1688,yly:382,series:[
 {bias:biasFull.slice(12),phase:v1Upper},{bias:biasFull.slice(33),phase:v1UpperB},{bias:biasOffset.slice(11),phase:v1UpperOffset},{bias:biasFull,phase:v1Lower},{bias:biasFull,phase:v1LowerB},{bias:biasOffset,phase:v1LowerOffset},{bias:v1ExtraBias,phase:v1ExtraPhase}]});
drawPanel({name:'lateral-row1',color:BLK,left:2466,right:3008,top:192,bottom:596,ymin:50,ymax:300,ticks:l1Ticks,ylx:2374,yly:382,series:[
 {bias:biasFull.slice(11),phase:l1UpperA},{bias:biasFull.slice(11),phase:l1UpperB},{bias:biasFull.slice(33),phase:l1UpperC},{bias:biasOffset.slice(12),phase:l1UpperD},{bias:biasOffset.slice(33),phase:l1UpperE},{bias:biasFull,phase:l1LowerA},{bias:biasFull,phase:l1LowerB},{bias:biasOffset,phase:l1LowerOffset},{bias:l1ExtraBias,phase:l1ExtraPhase}]});
drawPanel({name:'vertical-row2',color:RED,left:1782,right:2332,top:654,bottom:1063,ymin:0,ymax:250,ticks:v2Ticks,ylx:1688,yly:846,series:[
 {bias:biasFull.slice(8),phase:v2Upper},{bias:biasFull.slice(8),phase:v2UpperB},{bias:biasOffset.slice(8),phase:v2UpperOffset},{bias:biasFull,phase:v2LowerLeftA},{bias:biasFull,phase:v2LowerLeftB},{bias:biasFull,phase:v2LowerLeftC},{bias:biasOffset,phase:v2LowerLeftOffset},{bias:biasFull.slice(8),phase:v2LowerMidA},{bias:biasFull.slice(8),phase:v2LowerMidB},{bias:biasOffset.slice(8),phase:v2LowerMidOffset},{bias:v2ExtraBias,phase:v2ExtraPhase}]});
drawPanel({name:'lateral-row2',color:BLK,left:2464,right:3007,top:656,bottom:1061,ymin:-25,ymax:200,ticks:l2Ticks,ylx:2376,yly:846,series:[
 {bias:biasFull.slice(9),phase:l2UpperA},{bias:biasFull.slice(9),phase:l2UpperB},{bias:biasOffset.slice(9),phase:l2UpperOffset},{bias:biasFull,phase:l2LowerA},{bias:biasFull,phase:l2LowerB},{bias:biasFull,phase:l2LowerC},{bias:biasOffset,phase:l2LowerOffset},{bias:l2ExtraBias,phase:l2ExtraPhase}]});
drawPanel({name:'vertical-row3',color:RED,left:1781,right:2332,top:1113,bottom:1521,ymin:0,ymax:275,ticks:v3Ticks,ylx:1683,yly:1304,series:[
 {bias:biasFull.slice(13),phase:v3Upper},{bias:biasFull.slice(25),phase:v3UpperB},{bias:biasFull,phase:v3Lower},{bias:biasFull.slice(9),phase:v3LowerB},{bias:v3ExtraBias,phase:v3ExtraPhase}]});
drawPanel({name:'lateral-row3',color:BLK,left:2461,right:3008,top:1115,bottom:1521,ymin:0,ymax:180,ticks:l3Ticks,ylx:2372,yly:1320,series:[
 {bias:biasFull,phase:l3BandA},{bias:biasFull,phase:l3BandB},{bias:biasOffset,phase:l3BandOffset}]});
drawPanel({name:'vertical-row4',color:RED,left:1781,right:2331,top:1581,bottom:1989,ymin:-50,ymax:300,ticks:v4Ticks,ylx:1690,yly:1773,xlx:2061,xly:2052,series:[
 {bias:biasFull.slice(13),phase:v4UpperA},{bias:biasFull.slice(13),phase:v4UpperB},{bias:biasFull.slice(27),phase:v4UpperC},{bias:biasOffset.slice(13),phase:v4UpperOffset},{bias:biasFull,phase:v4LeftA},{bias:biasFull,phase:v4LeftB},{bias:biasFull,phase:v4LeftC},{bias:biasOffset,phase:v4LeftOffset},{bias:biasFull.slice(10),phase:v4BowlA},{bias:biasFull.slice(12),phase:v4BowlB},{bias:biasFull.slice(14),phase:v4BowlC},{bias:biasOffset.slice(11),phase:v4BowlOffset},{bias:v4ExtraBias,phase:v4ExtraPhase}]});
drawPanel({name:'lateral-row4',color:BLK,left:2469,right:3008,top:1579,bottom:1989,ymin:0,ymax:180,ticks:l4Ticks,ylx:2383,yly:1792,xlx:2743,xly:2054,series:[
 {bias:biasFull,phase:l4BandA},{bias:biasFull,phase:l4BandB},{bias:biasOffset,phase:l4BandOffset}]});

/* ---------- panel c chart ---------- */
(function(){
  const root=document.getElementById('chartC');
  const L=2002,R=3013,T=2234,B=2982;
  const sx=v=>L+v/320*(R-L);
  const sy=v=>B-(v-2.8)/2.4*(B-T);
  const bg=make(root,'rect',{x:L,y:T,width:R-L,height:B-T,fill:'url(#cBackground)',stroke:'#444','stroke-width':2});
  
  
  const ax1=make(root,'line',{x1:L,x2:L,y1:T,y2:B+1,stroke:'#111','stroke-width':4});
  
  
  const ax2=make(root,'line',{x1:L-1,x2:R,y1:B,y2:B,stroke:'#111','stroke-width':4});
  
  
  for(const t of cXTicks){
    const m=make(root,'line',{x1:sx(t),x2:sx(t),y1:B,y2:B+16,stroke:'#222','stroke-width':3});
    
    
    if(t+25<=320){
      const n=make(root,'line',{x1:sx(t+25),x2:sx(t+25),y1:B,y2:B+8,stroke:'#222','stroke-width':3});
      
      
    }
    const lab=make(root,'text',{x:sx(t),y:3034,'font-size':58,'text-anchor':'middle','dominant-baseline':'central','font-family':'"Liberation Serif",serif',fill:'#111'});
    lab.textContent=String(t);
    
    
  }
  cYTicks.forEach(function(t,i){
    const m=make(root,'line',{x1:L-16,x2:L,y1:sy(t),y2:sy(t),stroke:'#222','stroke-width':3});
    
    
    if(i<cYTicks.length-1){
      const n=make(root,'line',{x1:L-8,x2:L,y1:sy(t+0.2),y2:sy(t+0.2),stroke:'#222','stroke-width':3});
      
      
    }
    const lab=make(root,'text',{x:1973,y:sy(t),'font-size':58,'text-anchor':'end','dominant-baseline':'central','font-family':'"Liberation Serif",serif',fill:'#111'});
    lab.textContent=t.toFixed(1);
    
    
  });
  const yt=make(root,'text',{'font-size':56,'text-anchor':'middle','dominant-baseline':'central','font-family':'"Liberation Serif",serif',fill:'#111',textLength:779,lengthAdjust:'spacingAndGlyphs',transform:'translate(1859,2612) rotate(-90)'});
  yt.textContent='CR frequency difference Δf (kHz)';
  
  
  const xt=make(root,'text',{x:2490,y:3098,'font-size':56,'text-anchor':'middle','dominant-baseline':'central','font-family':'"Liberation Serif",serif',fill:'#111',textLength:346,lengthAdjust:'spacingAndGlyphs'});
  xt.textContent='Thickness (nm)';
  
  

  function errorBar(x,y,e,col){
    const v=make(root,'line',{x1:sx(x),x2:sx(x),y1:sy(y-e),y2:sy(y+e),stroke:col,'stroke-width':2.5});
    
    
    const c1=make(root,'line',{x1:sx(x)-9,x2:sx(x)+9,y1:sy(y+e),y2:sy(y+e),stroke:col,'stroke-width':2.5});
    
    
    const c2=make(root,'line',{x1:sx(x)-9,x2:sx(x)+9,y1:sy(y-e),y2:sy(y-e),stroke:col,'stroke-width':2.5});
    
    
  }
  blackThickness.forEach(function(x,i){
    errorBar(x,blackDelta[i],blackError[i],'#222');
    const sq=make(root,'rect',{x:sx(x)-8,y:sy(blackDelta[i])-8,width:16,height:16,fill:'#000'});
    
    
  });
  redThickness.forEach(function(x,i){
    errorBar(x,redDelta[i],redError[i],'#f04040');
    const c=make(root,'circle',{cx:sx(x),cy:sy(redDelta[i]),r:9.5,fill:'#f8141e'});
    
    
  });
})();

/* ---------- crystal structures ---------- */
(function(){
  const root=document.getElementById('crystals');
  const bx=x=>x*1.046;
  const by=y=>2120+y*.663;
  function bond(a,b,c,d,col){
    const l=make(root,'line',{x1:bx(a),y1:by(b),x2:bx(c),y2:by(d),stroke:col,'stroke-width':3.5});
    
    
  }
  function atom(x,y,r,fill,name){
    const c=make(root,'circle',{cx:bx(x),cy:by(y),r:r,fill:'url(#'+fill+')'});
    
    
  }
  const YEL='#e6dc20',PNK='#d78ab6';
  function bulkLayer(dx,dy,pLow){
    for(let i=0;i<5;i++){
      const xs=149+80*i, ux=123+79.6*i, lx=98+79.4*i;
      bond(ux+dx,427+dy,xs+dx,448+dy,YEL);
      bond(ux+80+dx,427+dy,xs+dx,448+dy,YEL);
      bond(lx+dx,572+dy,xs+dx,546+dy,YEL);
      bond(lx+78+dx,572+dy,xs+dx,546+dy,YEL);
      if(i>0){
        bond(xs+dx,490+dy,lx+dx,572+dy,PNK);
        bond(xs+dx,490+dy,lx+78+dx,572+dy,YEL);
        bond(xs+dx,490+dy,ux+dx,427+dy,PNK);
        bond(xs+dx,490+dy,ux+80+dx,427+dy,PNK);
        bond(xs+dx,448+dy,xs+dx,546+dy,'#e8d0e0');
      } else {
        bond(xs+dx,448+dy,xs+dx,546+dy,'#d8b8d0');
      }
    }
    for(let i=1;i<5;i++){
      atom(149+80*i+dx,560+dy,15,'atomCu','copper-atom');
      if(pLow){atom(149+80*i+dx,546+dy,13,'atomP','phosphorus-atom');}
    }
    atom(149+dx,546+dy,13,'atomP','phosphorus-atom');
    for(let i=0;i<5;i++){atom(149+80*i+dx,448+dy,13,'atomP','phosphorus-atom');}
    for(let i=1;i<5;i++){atom(149+80*i+dx,490+dy,21,'atomIn','indium-atom');}
    for(let i=0;i<6;i++){
      atom(123+79.6*i+dx,427+dy,13,'atomS','sulfur-atom');
      atom(98+79.4*i+dx,572+dy,12,'atomS','sulfur-atom');
    }
    for(let i=1;i<6;i++){atom(98+79.4*i+16+dx,575+dy,12,'atomS','sulfur-atom');}
  }
  bulkLayer(0,0,true);bulkLayer(26,282,false);bulkLayer(52,568,true);bulkLayer(78,850,false);

  function trigLayer(dy,cuFirst){
    for(let i=0;i<5;i++){
      const x=1127+74*i, ux=1103+74.2*i, lx=1077+74.2*i;
      bond(ux,472+dy,x,528+dy,PNK);bond(ux+74,472+dy,x,528+dy,YEL);
      bond(lx,603+dy,x,528+dy,PNK);bond(lx+74,603+dy,x,528+dy,YEL);
      bond(ux,472+dy,x,492+dy,YEL);bond(ux+74,472+dy,x,492+dy,YEL);
      bond(lx,603+dy,x,585+dy,YEL);bond(lx+74,603+dy,x,585+dy,YEL);
    }
    for(let i=0;i<5;i++){
      const x=1127+74*i;
      const isCu=(i%2===0)===cuFirst;
      atom(x,492+dy,13,'atomP','phosphorus-atom');
      atom(x,585+dy,isCu?15:13,isCu?'atomCu':'atomP',isCu?'copper-atom':'phosphorus-atom');
      atom(x,528+dy,20,'atomIn','indium-atom');
    }
    for(let i=0;i<6;i++){
      atom(1103+74.2*i,472+dy,12.5,'atomS','sulfur-atom');
      atom(1077+74.2*i,603+dy,12.5,'atomS','sulfur-atom');
    }
  }
  trigLayer(0,true);trigLayer(250,false);trigLayer(500,true);trigLayer(750,false);

  /* highlighted ions and polarization vectors */
  const g1=make(root,'circle',{cx:bx(387),cy:by(1340),r:24,fill:'#3a60d0',opacity:.55});
  
  
  const g2=make(root,'circle',{cx:bx(1275),cy:by(1280),r:24,fill:'#3a60d0',opacity:.55});
  
  
  function vec(a,b,c,d,col,name){
    const l=make(root,'line',{x1:bx(a),y1:by(b),x2:bx(c),y2:by(d),stroke:col,'stroke-width':5});
    
    
    const ang=Math.atan2(by(d)-by(b),bx(c)-bx(a));
    const X=bx(c),Y=by(d);
    const h=make(root,'polygon',{points:(X+6*Math.cos(ang))+','+(Y+6*Math.sin(ang))+' '+(X-8*Math.cos(ang)-7*Math.sin(ang))+','+(Y-8*Math.sin(ang)+7*Math.cos(ang))+' '+(X-8*Math.cos(ang)+7*Math.sin(ang))+','+(Y-8*Math.sin(ang)-7*Math.cos(ang)),fill:col});
    
    
  }
  vec(385,1345,385,1485,'#a01020','bulk-vertical-polarization');
  vec(385,1347,442,1347,'#e01818','bulk-horizontal-polarization');
  vec(1277,1285,1277,1432,'#a01020','trigonal-vertical-polarization');
})();
</script>
</body>
</html>
